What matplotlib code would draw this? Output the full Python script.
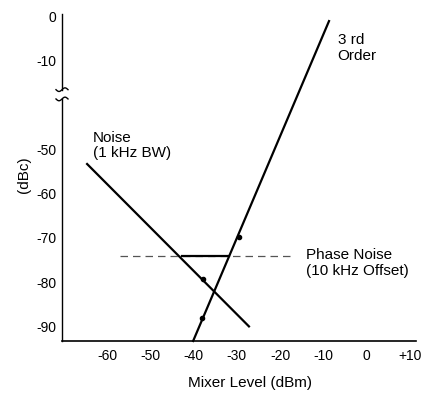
import numpy as np
import matplotlib
matplotlib.use("Agg")
import matplotlib.pyplot as plt
from matplotlib.lines import Line2D
from matplotlib.transforms import IdentityTransform

plt.rcParams['font.family'] = ['Liberation Sans', 'DejaVu Sans']

# data (x: mixer level dBm, y: dBc)
noise_x = [-64.6, -27.2]
noise_y = [-53.3, -90.0]
third_x = [-40.1, -8.7]
third_y = [-93.3, -1.0]
third_dots_x = [-38.1, -29.5]
third_dots_y = [-88.2, -69.8]
noise_dots_x = [-37.9]
noise_dots_y = [-79.2]
phase_level = -74.1
phase_dash_x = [-57.0, -16.6]
phase_solid_x = [-42.7, -31.8]

xticks = [-60, -50, -40, -30, -20, -10, 0, 10]
xticklabels = ['-60', '-50', '-40', '-30', '-20', '-10', '0', '+10']
yticks = [0, -10, -50, -60, -70, -80, -90]
yticklabels = ['0', '-10', '-50', '-60', '-70', '-80', '-90']

# broken y axis: squeeze -38.6 .. -16.5 into a small gap
brk_lo, brk_hi = -38.6, -16.5
real_k = [-200, brk_lo, brk_hi, 100]
vis_k = [-200, brk_lo, -36.5, 80]

def fwd(y):
    return np.interp(y, real_k, vis_k)

def inv(v):
    return np.interp(v, vis_k, real_k)

fig = plt.figure(figsize=(4.3, 3.93), dpi=100)
ax = fig.add_axes([62/430, 1-341/393, (416-62)/430, (341-14)/393])
ax.set_yscale('function', functions=(fwd, inv))
ax.set_xlim(-70.4, 11.4)
ax.set_ylim(-93.3, 0.6)

for s in ['top', 'right', 'left']:
    ax.spines[s].set_visible(False)
ax.spines['bottom'].set_linewidth(1.2)

# left spine in two pieces with wiggly break marks
yt = ax.get_yaxis_transform()
ax.plot([0, 0], [-93.3, brk_lo], color='black', lw=1.0, transform=yt, clip_on=False)
ax.plot([0, 0], [brk_hi, 0.6], color='black', lw=1.0, transform=yt, clip_on=False)
t = np.linspace(-1, 1, 30)
for yb in [brk_lo, brk_hi]:
    px, py = yt.transform((0, yb))
    fig.add_artist(Line2D(px + 6*t, py + 1.8*np.sin(np.pi*t), color='black',
                          lw=1.0, transform=IdentityTransform()))

ax.set_xticks(xticks)
ax.set_xticklabels(xticklabels)
ax.set_yticks(yticks)
ax.set_yticklabels(yticklabels)
ax.tick_params(axis='both', length=0, labelsize=10)
ax.tick_params(axis='y', pad=4)
ax.tick_params(axis='x', pad=6)

ax.plot(noise_x, noise_y, color='black', lw=1.6, clip_on=False)
ax.plot(third_x, third_y, color='black', lw=1.6, clip_on=False)
ax.plot(third_dots_x, third_dots_y, 'o', color='black', ms=3.0)
ax.plot(noise_dots_x, noise_dots_y, 'o', color='black', ms=3.0)

ax.plot(phase_dash_x, [phase_level]*2, color='#555555', lw=0.9, dashes=(6, 4))
ax.plot(phase_solid_x, [phase_level]*2, color='black', lw=1.6)

ax.text(-63.2, -45.8, 'Noise\n(1 kHz BW)', ha='left', va='top', fontsize=11, linespacing=1.15)
ax.text(-6.7, -3.8, '3 rd\nOrder', ha='left', va='top', fontsize=11, linespacing=1.15)
ax.text(-14.1, -72.3, 'Phase Noise\n(10 kHz Offset)', ha='left', va='top', fontsize=11, linespacing=1.15)

fig.text(24/430, 1-175/393, '(dBc)', rotation=90, ha='center', va='center', fontsize=11)
fig.text(250/430, 1-383/393, 'Mixer Level (dBm)', ha='center', va='center', fontsize=11)

fig.savefig('out.png', dpi=100)
